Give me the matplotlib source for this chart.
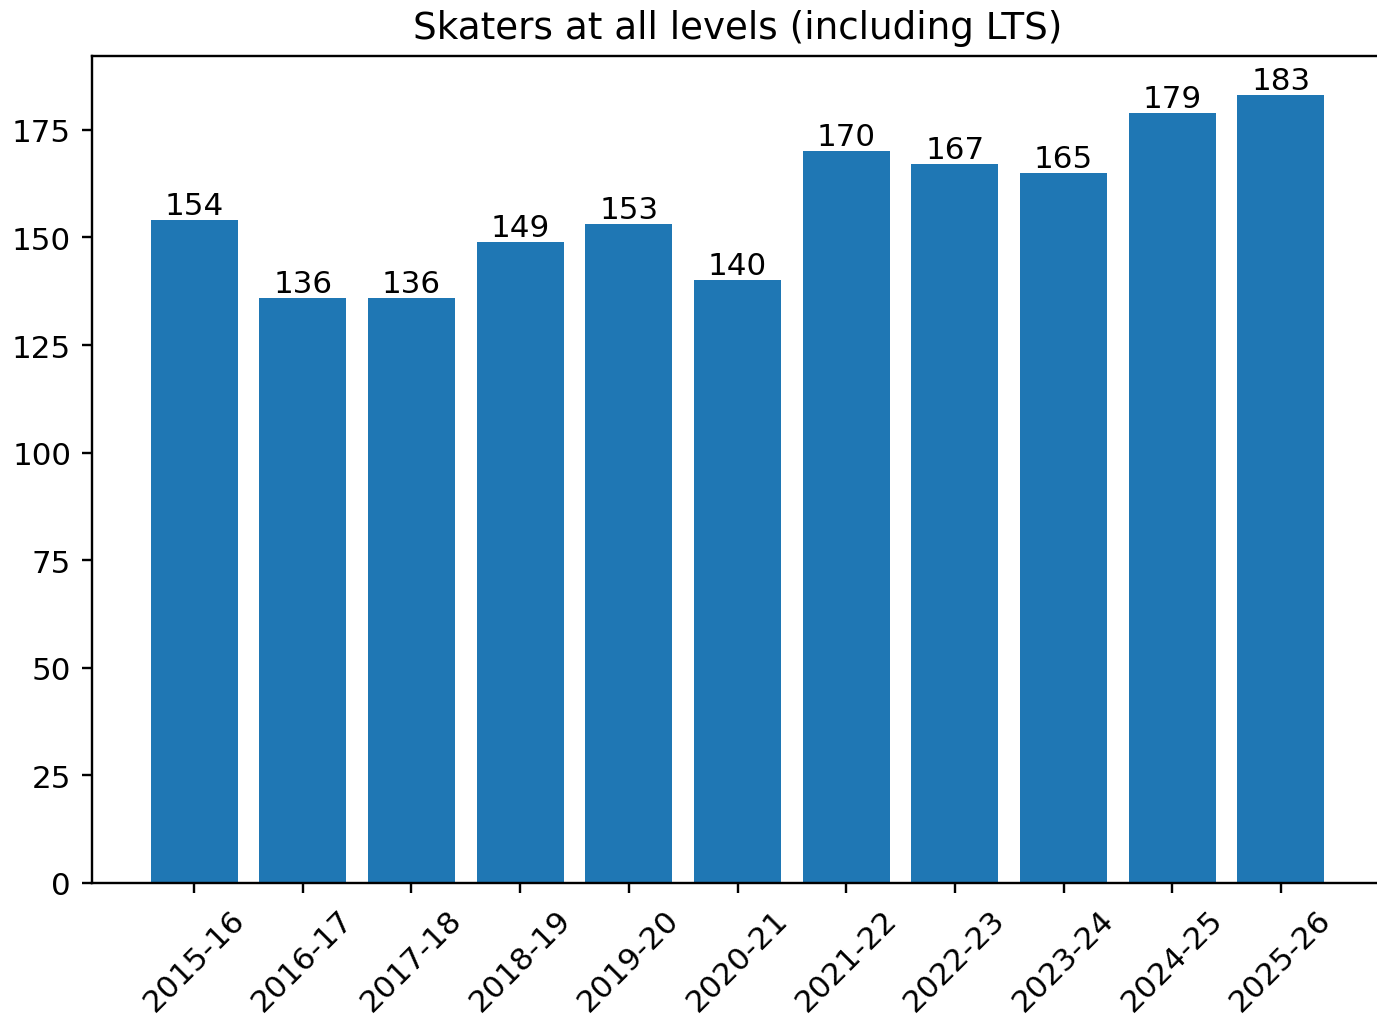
import matplotlib
matplotlib.use("Agg")
import matplotlib.pyplot as plt

seasons = ["2015-16", "2016-17", "2017-18", "2018-19", "2019-20", "2020-21",
           "2021-22", "2022-23", "2023-24", "2024-25", "2025-26"]
skaters = [154, 136, 136, 149, 153, 140, 170, 167, 165, 179, 183]

plt.rcParams["font.size"] = 10.4

fig = plt.figure(figsize=(1377 / 215, 1017 / 215), dpi=215)
ax = fig.add_axes([92 / 1377, 1 - 884 / 1017, 1291 / 1377, (884 - 57) / 1017])

bars = ax.bar(seasons, skaters, color="#1f77b4")
ax.bar_label(bars)
ax.set_title("Skaters at all levels (including LTS)")
ax.tick_params(axis="x", rotation=45)
# the reference image is cut off at the right edge, so no right spine shows
ax.spines["right"].set_visible(False)

fig.savefig("out.png", dpi=215)
